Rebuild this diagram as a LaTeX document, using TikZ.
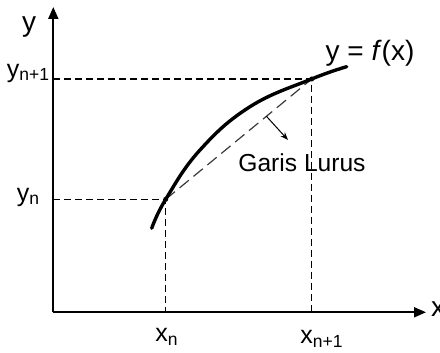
\documentclass[tikz,border=0pt]{standalone}
\usepackage{fontspec}
\setmainfont{Liberation Sans}
\usetikzlibrary{arrows.meta, positioning}
\definecolor{cgrey}{HTML}{3A3A3A}
\tikzset{
  every picture/.style={line width=1pt},
  axis/.style={-{Triangle[length=6pt, width=5pt]}, line width=1pt},
  guide/.style={dash pattern=on 3.5pt off 2pt, line width=0.7pt},
  chord/.style={dash pattern=on 6pt off 3pt, line width=0.6pt, draw=cgrey},
  curve/.style={line width=1.7pt, line cap=round},
  lbl/.style={font=\fontsize{12.5}{15}\selectfont, inner sep=0pt},
  big/.style={font=\fontsize{14}{17}\selectfont, inner sep=0pt},
  note/.style={font=\fontsize{12.3}{14}\selectfont, inner sep=0pt},
}

\begin{document}
\begin{tikzpicture}[x=0.5pt, y=0.5pt]
  \useasboundingbox (0,0) rectangle (440,353);
  \coordinate (O) at (53.3,40.7);
  \coordinate (ytop) at (53.3,346);
  \coordinate (xend) at (426,40.7);
  \coordinate (Pn) at (165.7,153.7);
  \coordinate (Pn1) at (311.7,274);
  \draw[axis] (O) -- (ytop);
  \draw[axis] (O) -- (xend);
  % projections of the two points
  \draw[guide] (O |- Pn) -- (Pn) -- (Pn |- O);
  \draw[guide] (O |- Pn1) -- (Pn1) -- (Pn1 |- O);
  \draw[chord] (Pn) -- (Pn1) coordinate[pos=0.69] (tip);
  \draw[curve] plot[smooth, tension=0.7] coordinates {(151.7,124.7) (Pn) (200,203) (250,246.3) (Pn1) (346.7,286.3)};
  \fill (Pn) circle (2.5);
  \fill (Pn1) circle (2.5);
  \coordinate (arrowend) at (288,213);
  \draw[-{Stealth[length=4pt]}, line width=0.5pt] (tip) -- (arrowend);
  \node[note] (garis) at (302,190) {Garis Lurus};
  \node[big] (flab) at (370,300) {y = \textit{f}(x)};
  \node[big] (ylab) at (29,326) {y};
  \node[big, anchor=west] (xlab) at (430,44) {x};
  \node[lbl, anchor=east] (yn1lab) at (51,280) {y\textsubscript{n+1}};
  \node[lbl, anchor=east] (ynlab) at (41,156) {y\textsubscript{n}};
  \node[lbl] (xnlab) at (167,16) {x\textsubscript{n}};
  \node[lbl] (xn1lab) at (322,14) {x\textsubscript{n+1}};
\end{tikzpicture}
\end{document}
